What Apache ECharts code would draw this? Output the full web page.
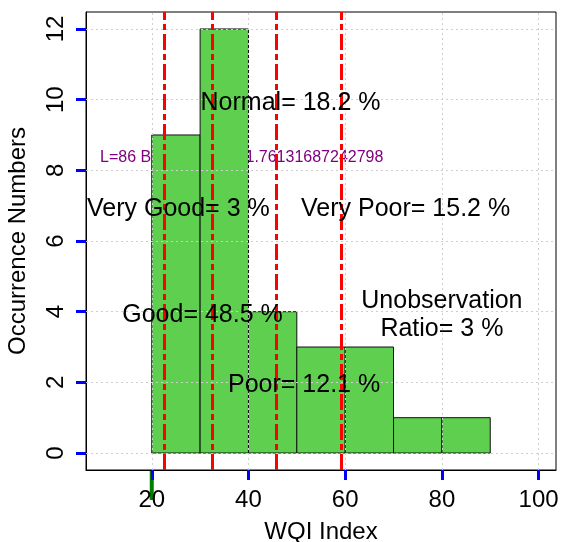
<!DOCTYPE html>
<html>
<head>
<meta charset="utf-8">
<script src="https://cdn.jsdelivr.net/npm/echarts@6/dist/echarts.min.js"></script>
<style>
html,body{margin:0;padding:0;background:#fff;overflow:hidden;}
#chart{width:562px;height:542px;}
</style>
</head>
<body>
<div id="chart"></div>
<script>
// Histogram bins
const binStart = [20, 30, 40, 50, 60, 70, 80];
const binEnd   = [30, 40, 50, 60, 70, 80, 90];
const counts   = [9, 12, 4, 3, 3, 1, 1];
// Class cut-off lines (WQI)
const cutoffs = [22.6, 32.6, 45.8, 59.2];
// Ticks
const xTicks = [20, 40, 60, 80, 100];
const yTicks = [0, 2, 4, 6, 8, 10, 12];
// Annotations
const annX = [48.7, 25.5, 72.5, 30.5, 51.5, 80];
const annY = [10, 7, 7, 4, 2, 4];
const annText = ['Normal= 18.2 %', 'Very Good= 3 %', 'Very Poor= 15.2 %', 'Good= 48.5 %', 'Poor= 12.1 %', 'Unobservation\nRatio= 3 %'];

const X_MIN = 6.4, X_MAX = 103.6, Y_MIN = -0.48, Y_MAX = 12.48;
const FONT = '"Liberation Sans", Arial, sans-serif';
const chart = echarts.init(document.getElementById('chart'), null, {renderer: 'canvas'});

const barData = binStart.map((s, i) => [s, binEnd[i], counts[i]]);
const annData = annX.map((x, i) => [x, annY[i]]);

const option = {
  animation: false,
  grid: {left: 86, top: 12, width: 470, height: 458, show: true, borderColor: '#000', borderWidth: 1,
         outerBoundsMode: 'none'},
  xAxis: {
    type: 'value', min: X_MIN, max: X_MAX,
    name: 'WQI Index', nameLocation: 'middle', nameGap: 50,
    nameTextStyle: {fontSize: 24, fontFamily: FONT, color: '#000'},
    axisLine: {show: true, onZero: false, lineStyle: {color: '#000', width: 1}},
    axisTick: {show: true, length: 10, customValues: xTicks, lineStyle: {color: 'blue', width: 3}},
    axisLabel: {customValues: xTicks, fontSize: 24, fontFamily: FONT, color: '#000', margin: 18},
    splitLine: {show: false}
  },
  yAxis: {
    type: 'value', min: Y_MIN, max: Y_MAX,
    name: 'Occurrence Numbers', nameLocation: 'middle', nameGap: 56, nameRotate: 90,
    nameTextStyle: {fontSize: 24, fontFamily: FONT, color: '#000'},
    axisLine: {show: true, onZero: false, lineStyle: {color: '#000', width: 1}},
    axisTick: {show: true, length: 10, customValues: yTicks, lineStyle: {color: 'blue', width: 3}},
    axisLabel: {customValues: yTicks, rotate: 90, fontSize: 24, fontFamily: FONT, color: '#000', margin: 18},
    splitLine: {show: false}
  },
  series: [
    {
      type: 'custom', z: 2, silent: true,
      data: barData,
      encode: {x: [0, 1], y: 2},
      renderItem: function (params, api) {
        const p0 = api.coord([api.value(0), api.value(2)]);
        const p1 = api.coord([api.value(1), 0]);
        return {
          type: 'rect',
          shape: {x: p0[0], y: p0[1], width: p1[0] - p0[0], height: p1[1] - p0[1]},
          style: {fill: '#5ecf4e', stroke: '#111', lineWidth: 1}
        };
      }
    },
    {
      type: 'scatter', z: 3, silent: true, symbolSize: 0, data: [[X_MIN, Y_MIN]],
      markLine: {
        silent: true, symbol: 'none', animation: false,
        label: {show: false},
        lineStyle: {color: '#cfcfcf', width: 1, type: [2, 3]},
        data: xTicks.map(v => ({xAxis: v})).concat(yTicks.map(v => ({yAxis: v})))
      }
    },
    {
      type: 'scatter', z: 4, silent: true, symbolSize: 0, data: [[X_MIN, Y_MIN]],
      markLine: {
        silent: true, symbol: 'none', animation: false,
        label: {show: false},
        lineStyle: {color: '#ff0000', width: 3, type: [16, 4, 6, 4]},
        data: cutoffs.map(v => ({xAxis: v}))
      }
    },
    {
      type: 'custom', z: 5, silent: true, clip: false,
      data: annData,
      encode: {x: 0, y: 1},
      renderItem: function (params, api) {
        const p = api.coord([api.value(0), api.value(1)]);
        return {
          type: 'text', x: p[0], y: p[1] + 3,
          style: {text: annText[params.dataIndex], align: 'center', verticalAlign: 'middle',
                  fontSize: 25, lineHeight: 28, fontFamily: FONT, fill: '#000'}
        };
      }
    }
  ]
};
chart.setOption(option);

let info = '';
try {
  const plotLeft = chart.convertToPixel({xAxisIndex: 0}, X_MIN);
  const plotBottom = chart.convertToPixel({yAxisIndex: 0}, Y_MIN);
  const p20 = chart.convertToPixel({xAxisIndex: 0}, 20);
  info = 'L=' + plotLeft + ' B=' + plotBottom + ' p20=' + p20;
  chart.setOption({graphic: [
    {type: 'rect', shape: {x: p20 - 2, y: plotBottom, width: 4, height: 30}, style: {fill: 'green'}},
    {type: 'text', left: 100, top: 150, style: {text: info, fill: 'purple', fontSize: 16}}
  ]});
} catch (e) {
  chart.setOption({graphic: [{type: 'text', left: 100, top: 150, style: {text: 'ERR ' + e.message, fill: 'red', fontSize: 16}}]});
}
</script>
</body>
</html>
